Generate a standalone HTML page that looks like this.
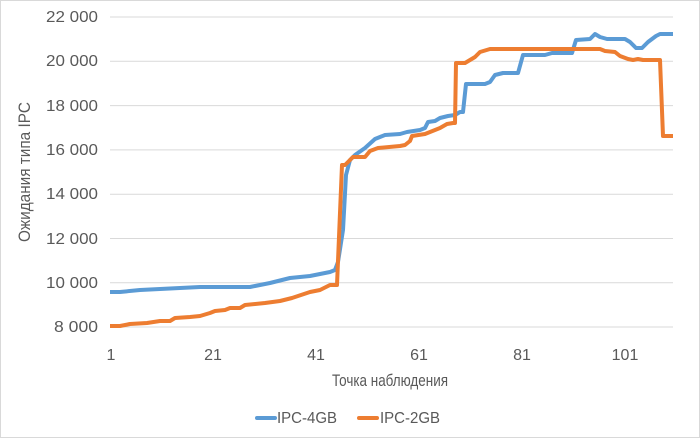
<!DOCTYPE html>
<html><head><meta charset="utf-8"><style>
html,body{margin:0;padding:0;background:#fff;}
svg{display:block;font-family:"Liberation Sans",sans-serif;}
</style></head><body>
<svg width="700" height="438" viewBox="0 0 700 438" xmlns="http://www.w3.org/2000/svg">
<rect x="0.5" y="0.5" width="699" height="437" fill="#fff" stroke="#d9d9d9"/>
<g stroke="#d9d9d9" stroke-width="1">
<line x1="110" y1="17" x2="673" y2="17"/>
<line x1="110" y1="61.3" x2="673" y2="61.3"/>
<line x1="110" y1="105.6" x2="673" y2="105.6"/>
<line x1="110" y1="149.9" x2="673" y2="149.9"/>
<line x1="110" y1="194.2" x2="673" y2="194.2"/>
<line x1="110" y1="238.5" x2="673" y2="238.5"/>
<line x1="110" y1="282.8" x2="673" y2="282.8"/>
<line x1="110" y1="327" x2="673" y2="327"/>
</g>
<g fill="#595959" font-size="16" text-anchor="end">
<text x="98" y="22" textLength="52" lengthAdjust="spacingAndGlyphs">22 000</text>
<text x="98" y="66" textLength="52" lengthAdjust="spacingAndGlyphs">20 000</text>
<text x="98" y="111" textLength="52" lengthAdjust="spacingAndGlyphs">18 000</text>
<text x="98" y="155" textLength="52" lengthAdjust="spacingAndGlyphs">16 000</text>
<text x="98" y="199" textLength="52" lengthAdjust="spacingAndGlyphs">14 000</text>
<text x="98" y="244" textLength="52" lengthAdjust="spacingAndGlyphs">12 000</text>
<text x="98" y="288" textLength="52" lengthAdjust="spacingAndGlyphs">10 000</text>
<text x="98" y="332" textLength="44" lengthAdjust="spacingAndGlyphs">8 000</text>
</g>
<g fill="#595959" font-size="16" text-anchor="middle">
<text x="111" y="360">1</text>
<text x="213" y="360">21</text>
<text x="316" y="360">41</text>
<text x="419" y="360">61</text>
<text x="522" y="360">81</text>
<text x="625" y="360">101</text>
<text x="390" y="386" font-size="17" textLength="116" lengthAdjust="spacingAndGlyphs">Точка наблюдения</text>
<text transform="translate(30,172) rotate(-90)" font-size="17" textLength="140" lengthAdjust="spacingAndGlyphs">Ожидания типа IPC</text>
</g>
<polyline fill="none" stroke="#5b9bd5" stroke-width="4" stroke-linejoin="round" points="110,292 120,292 140,290 160,289 200,287 250,287 255,286 270,283 290,278 310,276 320,274 330,272 335,270 338,262 343,230 346,175 350,160 355,155 365,148 375,139 385,135 400,134 407,132 420,130 425,128 428,122 435,121 440,118 448,116 455,115 460,112 463,112 466,84 485,84 490,82 495,75 503,73 518,73 523,55 545,55 552,53 572,53 576,40 590,39 595,34 600,37 607,39 625,39 630,42 636,48 642,48 648,42 656,36 660,34 673,34"/>
<polyline fill="none" stroke="#ed7d31" stroke-width="4" stroke-linejoin="round" points="110,326 120,326 130,324 147,323 160,321 170,321 175,318 190,317 200,316 210,313 215,311 225,310 230,308 240,308 245,305 265,303 280,301 292,298 310,292 320,290 330,285 337,285 342,165 345,165 353,157 365,157 370,151 378,148 400,146 405,145 410,141 412,136 425,134 440,128 447,124 453,123 455,123 456,63 465,63 475,57 480,52 490,49 575,49 600,49 605,51 615,52 620,56 628,59 633,60 638,59 643,60 660,60 663,136 673,136"/>
<line x1="257" y1="418" x2="275" y2="418" stroke="#5b9bd5" stroke-width="4" stroke-linecap="round"/>
<line x1="359" y1="418" x2="377" y2="418" stroke="#ed7d31" stroke-width="4" stroke-linecap="round"/>
<g fill="#595959" font-size="16">
<text x="277" y="423" textLength="60" lengthAdjust="spacingAndGlyphs">IPC-4GB</text>
<text x="380" y="423" textLength="60" lengthAdjust="spacingAndGlyphs">IPC-2GB</text>
</g>
</svg>
</body></html>
